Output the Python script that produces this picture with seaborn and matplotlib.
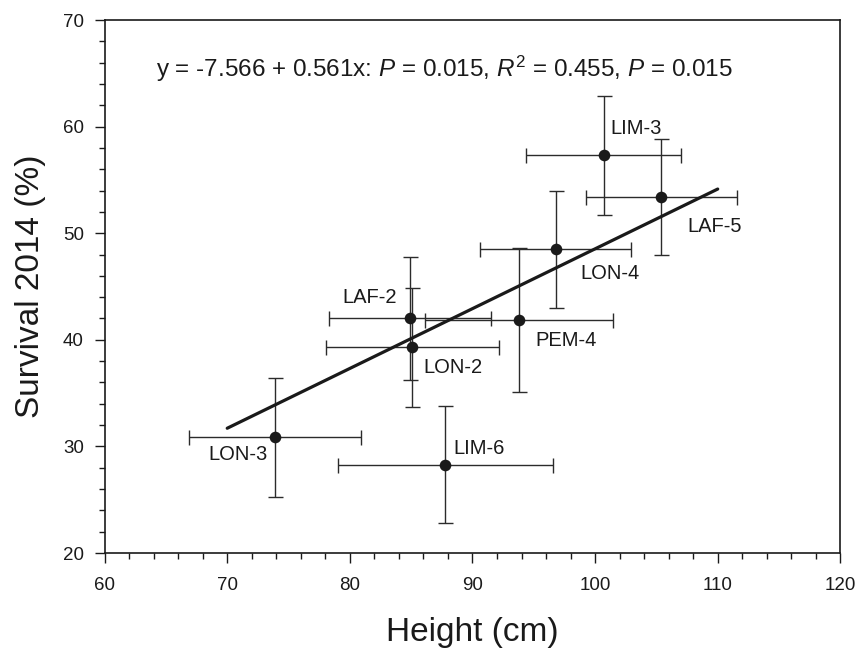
import matplotlib
matplotlib.use("Agg")
import matplotlib.pyplot as plt
from matplotlib.ticker import MultipleLocator, AutoMinorLocator
import seaborn as sns
import pandas as pd
import numpy as np

# ---- data ----
genotypes = ["LON-3", "LIM-6", "LAF-2", "LON-2", "PEM-4", "LON-4", "LIM-3", "LAF-5"]
height = [73.9, 87.8, 84.9, 85.1, 93.8, 96.8, 100.7, 105.4]
height_err = [7.05, 8.8, 6.6, 7.05, 7.7, 6.15, 6.3, 6.15]
survival = [30.85, 28.3, 42.0, 39.3, 41.85, 48.5, 57.3, 53.4]
survival_err = [5.6, 5.5, 5.8, 5.6, 6.75, 5.5, 5.6, 5.45]

intercept = -7.566
slope = 0.561
fit_x_range = [70, 110]

equation_text = (r"y = -7.566 + 0.561x: $\mathit{P}$ = 0.015, "
                 r"$\mathit{R}^{2}$ = 0.455, $\mathit{P}$ = 0.015")

# label offsets (pixels) and alignment
label_offsets = [(-7, -17), (8, 16), (-13, 21), (11, -20),
                 (16, -20), (25, -24), (7, 27), (26, -30)]
label_ha = ["right", "left", "right", "left", "left", "left", "left", "left"]

df = pd.DataFrame({"genotype": genotypes, "height": height, "height_err": height_err,
                   "survival": survival, "survival_err": survival_err})
fit_df = pd.DataFrame({"x": fit_x_range,
                       "y": [intercept + slope * v for v in fit_x_range]})

sns.set_theme(style="ticks")
plt.rcParams["font.family"] = ["Liberation Sans", "DejaVu Sans"]
plt.rcParams["mathtext.fontset"] = "custom"
plt.rcParams["mathtext.rm"] = "Liberation Sans"
plt.rcParams["mathtext.it"] = "Liberation Sans:italic"
plt.rcParams["mathtext.bf"] = "Liberation Sans:bold"

ink = "#1a1a1a"
fig = plt.figure(figsize=(8.56, 6.48), dpi=100)
ax = fig.add_axes([0.1222, 0.1466, 0.8595, 0.8225])

ax.errorbar(df["height"], df["survival"], xerr=df["height_err"], yerr=df["survival_err"],
            fmt="none", ecolor="#2b2b2b", elinewidth=1.0, capsize=5.4, capthick=1.0, zorder=2)
sns.lineplot(data=fit_df, x="x", y="y", ax=ax, color=ink, linewidth=2.3, zorder=3)
sns.scatterplot(data=df, x="height", y="survival", ax=ax, color=ink, s=70,
                edgecolor=ink, linewidth=0, zorder=4)

for i, row in df.iterrows():
    ax.annotate(row["genotype"], (row["height"], row["survival"]),
                xytext=label_offsets[i], textcoords="offset pixels",
                ha=label_ha[i], va="center", fontsize=14.5, color=ink)

ax.text(0.0699, 0.894, equation_text, transform=ax.transAxes, ha="left", va="baseline",
        fontsize=17.5, color=ink)

ax.set_xlim(60, 120)
ax.set_ylim(20, 70)
ax.xaxis.set_major_locator(MultipleLocator(10))
ax.yaxis.set_major_locator(MultipleLocator(10))
ax.xaxis.set_minor_locator(AutoMinorLocator(5))
ax.yaxis.set_minor_locator(AutoMinorLocator(5))
ax.tick_params(axis="both", which="major", direction="out", length=7, width=1.0,
               colors=ink, labelsize=13.5, top=False, right=False)
ax.tick_params(axis="both", which="minor", direction="out", length=4, width=1.0,
               colors=ink, top=False, right=False)
ax.tick_params(axis="x", which="major", pad=10)
ax.tick_params(axis="y", which="major", pad=8)
for sp in ax.spines.values():
    sp.set_visible(True)
    sp.set_linewidth(1.2)
    sp.set_color(ink)

ax.set_xlabel("Height (cm)", fontsize=24, color=ink)
ax.set_ylabel("Survival 2014 (%)", fontsize=24, color=ink)
ax.xaxis.set_label_coords(0.5, -0.12)
ax.yaxis.set_label_coords(-0.08, 0.5)
ax.xaxis.label.set_va("top")
ax.yaxis.label.set_va("bottom")

fig.savefig("out.png", dpi=100)
